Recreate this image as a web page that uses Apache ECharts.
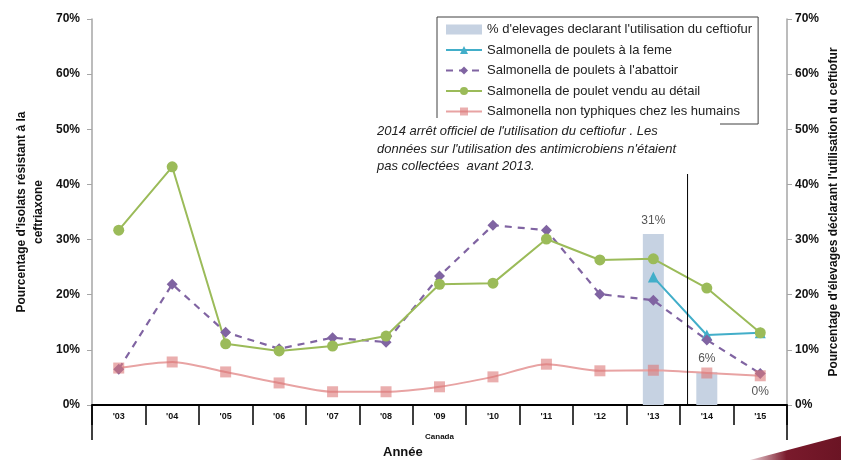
<!DOCTYPE html>
<html><head><meta charset="utf-8">
<script src="https://cdn.jsdelivr.net/npm/echarts@6/dist/echarts.min.js"></script>
<style>html,body{margin:0;padding:0;background:#fff}#c{width:841px;height:460px}</style>
</head><body><div id="c"></div>
<script>
const years = ["'03","'04","'05","'06","'07","'08","'09","'10","'11","'12","'13","'14","'15"];
const yTicks = [0,10,20,30,40,50,60,70];
const ceftiofurUse = [null,null,null,null,null,null,null,null,null,null,31,6,0];
const farm = [null,null,null,null,null,null,null,null,null,null,23.2,12.7,13.1];
const abattoir = [6.5,21.9,13.2,10.2,12.2,11.4,23.4,32.6,31.7,20.1,19.0,11.8,5.7];
const retail = [31.7,43.2,11.1,9.8,10.7,12.5,21.9,22.1,30.1,26.3,26.5,21.2,13.1];
const humans = [6.7,7.8,6.0,4.0,2.4,2.4,3.3,5.1,7.4,6.2,6.3,5.8,5.3];
const names = ["% d'elevages declarant l'utilisation du ceftiofur","Salmonella de poulets à la feme","Salmonella de poulets à l'abattoir","Salmonella de poulet vendu au détail","Salmonella non typhiques chez les humains"];

const FONT = 'Arial, "Liberation Sans", sans-serif';
const chart = echarts.init(document.getElementById('c'), null, {renderer:'canvas'});
const G = {left:92, right:54, top:19, bottom:55, containLabel:false, outerBoundsMode:'none'};
const yAxisBase = {
  type:'value', min:yTicks[0], max:yTicks[yTicks.length-1], interval:10,
  axisLine:{show:true, lineStyle:{color:'#a6a6a6', width:1.5}},
  axisTick:{show:true, length:5, lineStyle:{color:'#a6a6a6'}},
  splitLine:{show:false},
  axisLabel:{formatter:'{value}%', color:'#111', fontWeight:'bold', fontSize:12, fontFamily:FONT},
  nameLocation:'middle', nameRotate:90, nameMoveOverlap:false,
  nameTextStyle:{color:'#111', fontWeight:'bold', fontSize:12, fontFamily:FONT, lineHeight:17}
};
chart.setOption({
  animation:false,
  grid:G,
  legend:{
    orient:'vertical', left:437, top:17, width:322, height:104,
    padding:[6,6,6,8], itemGap:7.5, itemWidth:36, itemHeight:10,
    backgroundColor:'#fff', borderColor:'#404040', borderWidth:1,
    textStyle:{color:'#222', fontSize:13, fontFamily:FONT},
    data:[
      {name:names[0], icon:'rect', itemStyle:{color:'#c6d2e2'}},
      names[1], names[2], names[3], names[4]
    ]
  },
  xAxis:{
    type:'category', data:years, boundaryGap:true,
    axisLine:{lineStyle:{color:'#000', width:2}},
    axisTick:{show:true, interval:0, length:20, lineStyle:{color:'#000', width:1.5}},
    axisLabel:{interval:0, margin:7, color:'#111', fontWeight:'bold', fontSize:9, fontFamily:FONT},
    name:'Canada', nameLocation:'middle', nameGap:28, nameMoveOverlap:false,
    nameTextStyle:{color:'#111', fontWeight:'bold', fontSize:8, fontFamily:FONT}
  },
  yAxis:[
    Object.assign({}, yAxisBase, {position:'left', name:"Pourcentage d'isolats résistant à la\nceftriaxone", nameGap:45,
      axisLabel:Object.assign({}, yAxisBase.axisLabel, {margin:12})}),
    Object.assign({}, yAxisBase, {position:'right', name:"Pourcentage d'élevages déclarant l'utilisation du ceftiofur", nameGap:38,
      axisLabel:Object.assign({}, yAxisBase.axisLabel, {margin:8})})
  ],
  series:[
    {name:names[0], type:'bar', yAxisIndex:1, data:ceftiofurUse, barWidth:21,
     itemStyle:{color:'#c6d2e2'},
     label:{show:true, position:'top', formatter:'{c}%', color:'#555', fontSize:12, fontFamily:FONT, distance:7}},
    {name:names[1], type:'line', data:farm, symbol:'triangle', symbolSize:11,
     lineStyle:{color:'#42aec9', width:2}, itemStyle:{color:'#42aec9'}},
    {name:names[2], type:'line', data:abattoir, symbol:'diamond', symbolSize:11,
     lineStyle:{color:'#8064a2', width:2.2, type:[7,6]}, itemStyle:{color:'#8064a2'}},
    {name:names[3], type:'line', data:retail, symbol:'circle', symbolSize:11,
     lineStyle:{color:'#9bbb59', width:2}, itemStyle:{color:'#9bbb59'}},
    {name:names[4], type:'line', data:humans, symbol:'rect', symbolSize:11, smooth:0.25,
     lineStyle:{color:'#e8a3a3', width:2}, itemStyle:{color:'rgba(220,120,120,0.6)'}}
  ]
});

// annotation and decorations positioned from axis pixel coordinates
const p13 = chart.convertToPixel({xAxisIndex:0}, 10);
const p14 = chart.convertToPixel({xAxisIndex:0}, 11);
const lineX = p13 + (p14 - p13) * 0.64;
const y0 = chart.convertToPixel({yAxisIndex:0}, 0);
const gl = G.left, gr = 841 - G.right;
chart.setOption({
  graphic:[
    {type:'line', z:5, shape:{x1:lineX, y1:128, x2:lineX, y2:y0}, style:{stroke:'#000', lineWidth:1}},
    {type:'line', z:5, shape:{x1:gl, y1:y0, x2:gl, y2:440}, style:{stroke:'#000', lineWidth:1.5}},
    {type:'line', z:5, shape:{x1:gr, y1:y0, x2:gr, y2:440}, style:{stroke:'#000', lineWidth:1.5}},
    {type:'rect', z:10, shape:{x:374, y:118, width:346, height:56}, style:{fill:'#fff'}},
    {type:'text', z:11, left:377, top:123, style:{
      text:"2014 arrêt officiel de l'utilisation du ceftiofur . Les\ndonnées sur l'utilisation des antimicrobiens n'étaient\npas collectées  avant 2013.",
      fill:'#222', font:'italic 13px ' + FONT, lineHeight:17.5}},
    {type:'text', z:11, left:383, top:446, style:{text:'Année', fill:'#111', font:'bold 13px ' + FONT}},
    {type:'polygon', z:1, shape:{points:[[750,460],[841,436],[841,460]]},
     style:{fill:new echarts.graphic.LinearGradient(0,0,1,0,[{offset:0,color:'rgba(140,30,50,0.2)'},{offset:0.4,color:'#7a1a2c'},{offset:1,color:'#6b1424'}])}}
  ]
});
</script></body></html>
